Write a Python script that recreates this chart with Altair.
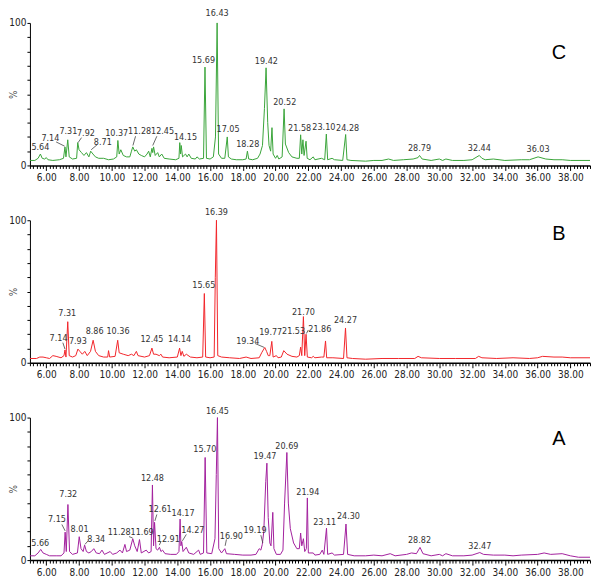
import altair as alt
import pandas as pd

FONT = "Liberation Sans Narrow, Arial Narrow, DejaVu Sans Condensed, Liberation Sans, sans-serif"
X_DOMAIN = [5.0, 39.2]

# ---------------- traces (retention time, relative abundance %) ----------------
c_trace = [(5.0,3.5),(5.3,3.5),(5.5,5),(5.64,8),(5.75,5),(5.9,4.5),(6.0,5.5),(6.1,4),(6.4,3.5),(6.8,4),
           (7.05,5),(7.14,13),(7.2,6),(7.31,18),(7.4,6),(7.6,4.5),(7.85,5),(7.92,16),(8.0,11),(8.15,9),
           (8.3,7),(8.45,9),(8.6,6),(8.71,10),(8.85,8),(9.0,6),(9.2,5),(9.5,5),(9.8,4),(10.1,4.5),
           (10.3,6),(10.37,17.5),(10.45,8),(10.55,11),(10.7,7),(10.9,6),(11.1,6),(11.2,10),(11.28,13),(11.4,10),
           (11.5,11),(11.65,8),(11.8,7),(12.0,6),(12.15,8),(12.25,10),(12.35,6),(12.45,12),(12.5,9),(12.55,13),
           (12.65,7),(12.8,9),(12.9,6),(13.05,8),(13.2,5),(13.5,4.5),(13.9,4),(14.1,5),(14.15,16),(14.2,8),
           (14.24,14),(14.32,6),(14.5,8),(14.6,6),(14.7,8),(14.85,5),(15.1,4.5),(15.2,6),(15.35,4.5),(15.6,5),
           (15.69,69),(15.78,5),(16.0,4.5),(16.2,6),(16.33,20),(16.43,100),(16.52,8),(16.7,5),(16.9,5),(17.05,20),
           (17.12,6),(17.3,4.5),(17.6,4),(18.0,4),(18.2,4.5),(18.28,10),(18.36,4.5),(18.6,4),(18.9,5),(19.05,8),
           (19.2,14),(19.32,40),(19.42,68.5),(19.52,30),(19.6,14),(19.7,10),(19.78,26.5),(19.85,8),(20.0,5),(20.1,7),
           (20.2,4.5),(20.4,6),(20.52,39.7),(20.6,15),(20.8,9),(21.0,6),(21.3,5),(21.45,5),(21.53,21.5),(21.6,8),
           (21.67,18),(21.74,7),(21.86,17),(21.93,5),(22.1,4),(22.3,6),(22.4,4),(22.8,5),(23.0,4),(23.1,22),
           (23.18,4),(23.45,5),(23.6,4),(24.1,3.5),(24.28,21.7),(24.36,4),(24.6,3.5),(25.5,3),(26.0,3.5),(26.5,3.5),
           (26.9,4.5),(27.2,3.5),(27.8,4),(28.4,4.5),(28.7,5.5),(28.79,7),(28.95,4.5),(29.5,3.5),(30.0,4.5),(30.2,3.5),
           (30.4,4.5),(30.8,3.5),(31.5,3.5),(32.0,4),(32.44,7),(32.6,5),(32.8,4),(33.3,4.5),(34.0,3.5),(35.0,4),
           (35.5,4),(36.03,6),(36.5,4.5),(37.0,4),(37.5,4),(38.0,3.5),(39.2,3.5)]

b_trace = [(5.0,3),(5.4,3),(5.6,4),(5.8,4),(6.0,3.5),(6.2,3),(6.4,5),(6.6,4.5),(6.9,3.5),(7.08,5),
           (7.14,9),(7.2,4),(7.31,28.8),(7.4,5),(7.6,4),(7.8,5),(7.93,9.6),(8.05,8),(8.2,6),(8.35,8),
           (8.5,5),(8.7,8),(8.86,15.8),(9.0,8),(9.2,5),(9.5,4),(9.75,4),(9.8,8.5),(9.87,4),(10.2,4.5),
           (10.36,15.8),(10.45,7),(10.7,6),(11.0,5),(11.2,6),(11.35,5),(11.5,8),(11.6,5),(12.0,4),(12.3,5),
           (12.45,10.3),(12.55,6),(12.7,6),(12.9,5),(13.0,6),(13.1,4),(13.5,3.5),(14.0,4),(14.14,10.3),(14.22,5),
           (14.3,8),(14.4,4.5),(14.55,6),(14.8,4),(15.2,3.5),(15.55,4),(15.65,48.6),(15.73,4),(16.0,3.5),(16.25,4),
           (16.32,60),(16.39,100),(16.47,5),(16.7,4),(17.2,3.5),(17.8,3),(18.2,4),(18.5,3),(19.0,3.5),(19.15,7),
           (19.25,9),(19.34,10.7),(19.45,8),(19.55,5),(19.65,5),(19.77,15),(19.85,4),(20.05,5),(20.15,3.5),(20.35,4),
           (20.5,8.5),(20.7,6),(21.0,4.5),(21.3,4),(21.45,5),(21.53,11),(21.6,5),(21.7,32.4),(21.78,5),(21.86,20),
           (21.94,4),(22.2,3.5),(22.3,4.5),(22.4,3.5),(22.8,4),(22.95,4),(23.05,15.3),(23.12,3.5),(23.5,3.5),(24.15,3),
           (24.27,24.4),(24.36,3.5),(24.7,3),(25.5,2.5),(26.5,3),(27.5,3),(28.5,3),(28.7,4.5),(28.9,3.5),(30.0,3),
           (31.0,3),(32.2,3),(32.4,4.5),(32.6,3.5),(33.5,3),(34.5,3.5),(35.5,3),(36.0,3.5),(36.3,4.5),(37.0,4),
           (37.5,4),(38.0,3.5),(39.2,3.5)]

a_trace = [(5.0,3),(5.3,3),(5.5,5),(5.66,7.5),(5.8,5),(6.0,4),(6.2,3),(6.6,3),(6.9,3),(7.08,5),
           (7.15,19.6),(7.22,6),(7.32,39),(7.42,6),(7.6,4),(7.9,5),(8.01,16.4),(8.12,8),(8.25,6),(8.34,10.5),
           (8.45,6),(8.6,5),(8.75,6),(8.9,8),(9.05,5),(9.25,4.5),(9.4,7),(9.55,4),(9.9,6),(10.05,4),
           (10.3,5),(10.5,7),(10.65,5),(10.8,11),(10.9,6),(11.1,7),(11.28,15),(11.4,10),(11.55,6),(11.69,14.4),
           (11.8,5),(12.1,7),(12.25,5),(12.4,6),(12.48,52.7),(12.55,10),(12.61,26.5),(12.7,8),(12.8,7),(12.91,9),
           (13.0,6),(13.1,7),(13.25,4.5),(13.6,4),(13.95,4),(14.1,6),(14.17,28.8),(14.22,10),(14.27,13),(14.35,6),
           (14.55,9),(14.7,5),(15.0,4),(15.3,7),(15.4,4),(15.6,5),(15.7,72),(15.8,5),(16.1,4.5),(16.3,15),
           (16.38,60),(16.45,100),(16.53,8),(16.7,5),(16.9,8),(17.0,4.5),(17.5,4),(18.0,3.5),(18.5,3.5),(18.8,4),
           (19.0,8),(19.1,7),(19.19,11),(19.28,20),(19.4,55),(19.47,68),(19.55,30),(19.65,12),(19.72,10),(19.83,33.5),
           (19.9,8),(20.05,4),(20.3,4),(20.45,7),(20.55,40),(20.69,75.5),(20.78,40),(20.9,22),(21.1,12),(21.3,8),
           (21.45,8),(21.53,19),(21.6,10),(21.7,15),(21.78,6),(21.88,8),(21.94,43.6),(22.0,5),(22.3,5),(22.4,3.5),
           (22.7,4),(22.85,7),(22.95,4),(23.11,22.4),(23.18,4),(23.45,5),(23.6,3.5),(24.15,4),(24.3,25.3),(24.4,4),
           (24.8,3),(25.5,3),(26.0,3.5),(26.5,3),(27.0,4.5),(27.3,3),(28.0,4),(28.3,5),(28.6,4.5),(28.82,8.9),
           (29.0,4.5),(29.5,3),(30.0,4),(30.2,3),(30.4,4.5),(30.8,3),(31.5,3),(32.0,3.5),(32.47,5.3),(32.7,4),
           (33.3,3.5),(34.0,3.5),(34.5,3),(35.0,3.5),(36.0,4),(36.4,5),(36.8,4),(37.5,4.5),(38.0,3),(38.5,2),
           (39.2,2)]

# ---------------- peak labels (text, time of label centre, height of label centre) ----------------
c_labels = [("5.64",5.64,13),("7.14",6.25,19),("7.31",7.35,24),("7.92",8.42,23),("8.71",9.45,16.5),
            ("10.37",10.3,22.6),("11.28",11.7,24),("12.45",13.1,24),("14.15",14.5,20),("15.69",15.6,74),
            ("16.43",16.43,106.8),("17.05",17.1,25.5),("18.28",18.3,15),("19.42",19.44,73.3),("20.52",20.56,44.3),
            ("21.58",21.47,26.5),("23.10",22.95,27),("24.28",24.4,26.5),("28.79",28.79,12.3),("32.44",32.44,12.1),
            ("36.03",36.03,11.2)]
b_labels = [("7.14",6.75,17.6),("7.31",7.28,34.7),("7.93",7.93,15.3),("8.86",8.95,22.5),("10.36",10.38,22.1),
            ("12.45",12.45,16.4),("14.14",14.14,16.4),("15.65",15.62,54.6),("16.39",16.39,105.7),("19.34",18.3,15),
            ("19.77",19.7,21.5),("21.53",21.1,22),("21.70",21.70,35.8),("21.86",22.7,24),("24.27",24.27,30.1)]
a_labels = [("5.66",5.63,12.1),("7.15",6.65,28.8),("7.32",7.34,46.6),("8.01",8.03,21.9),("8.34",9.05,15),
            ("11.28",10.45,19.6),("11.69",11.85,19.6),("12.48",12.48,57.3),("12.61",12.95,36),("12.91",13.45,14.5),
            ("14.17",14.35,33),("14.27",14.95,21),("15.70",15.68,77.9),("16.45",16.45,104.8),("16.90",17.3,17),
            ("19.19",18.75,21),("19.47",19.35,73),("20.69",20.69,80),("21.94",21.97,48),("23.11",23.0,26.5),
            ("24.30",24.45,31),("28.82",28.79,13.9),("32.47",32.47,10)]

# ---------------- leader lines (label end -> peak top) ----------------
c_leaders = [(6.6,16.5,7.12,13.5),(8.15,19.5,7.94,16),(9.1,14.5,8.74,11),
             (11.45,20.5,11.29,14),(12.75,20.5,12.5,14)]
b_leaders = [(7.01,14.1,7.14,9.6),(18.75,13.5,19.3,10.8),(22.0,23,21.88,20.5)]
a_leaders = [(6.95,25,7.15,20.5),(8.55,13.5,8.36,11),(11.05,16.5,11.27,15.5),(12.75,32,12.63,27.5),
             (13.0,13,12.9,10.5),(14.55,18,14.31,13.5),(17.0,14.5,16.92,10),(19.1,17.5,19.22,12)]

# ---------------- panel letters ----------------
c_letter = [("C", 37.3, 79)]
b_letter = [("B", 37.3, 90)]
a_letter = [("A", 37.3, 85)]

x_tick_values = [round(5.0 + 0.2 * i, 1) for i in range(172)]
y_tick_values = list(range(0, 101, 10))

PLOT_W, PLOT_H = 562, 143


def panel(trace, labels, leaders, letter, color):
    tdf = pd.DataFrame(trace, columns=["t", "v"])
    ldf = pd.DataFrame(labels, columns=["txt", "t", "v"])
    rdf = pd.DataFrame(leaders, columns=["t", "v", "t2", "v2"])
    gdf = pd.DataFrame(letter, columns=["txt", "t", "v"])

    x = alt.X("t:Q", title=None,
              scale=alt.Scale(domain=X_DOMAIN, nice=False, zero=False),
              axis=alt.Axis(values=x_tick_values,
                            labelExpr="datum.value % 2 == 0 ? format(datum.value, '.2f') : ''",
                            tickSize={"condition": {"test": "datum.value % 2 == 0", "value": 5}, "value": 3},
                            labelOverlap=False, labelFlush=False, labelPadding=2,
                            domainWidth=1.5, grid=False))
    y = alt.Y("v:Q", title="%",
              scale=alt.Scale(domain=[0, 100], nice=False),
              axis=alt.Axis(values=y_tick_values,
                            labelExpr="datum.value == 0 || datum.value == 100 ? datum.label : ''",
                            tickSize=3, labelPadding=1, grid=False,
                            titleX=-11, titleY=PLOT_H / 2, titleFontSize=10,
                            titleFontWeight="normal", titleColor="#555", titleFont=FONT))

    line = alt.Chart(tdf).mark_line(color=color, strokeWidth=1, clip=False).encode(x=x, y=y)
    text = alt.Chart(ldf).mark_text(font=FONT, fontSize=9, color="#333",
                                    align="center", baseline="middle").encode(x=x, y=y, text="txt:N")
    rules = alt.Chart(rdf).mark_rule(color="#444", strokeWidth=0.8).encode(
        x=x, y=y, x2="t2:Q", y2="v2:Q")
    lett = alt.Chart(gdf).mark_text(font="Liberation Sans, Arial, sans-serif", fontSize=20,
                                    color="#000", align="center", baseline="middle").encode(
        x=x, y=y, text="txt:N")
    return alt.layer(line, rules, text, lett).properties(width=PLOT_W, height=PLOT_H)


pc = panel(c_trace, c_labels, c_leaders, c_letter, "#3aa53a")
pb = panel(b_trace, b_labels, b_leaders, b_letter, "#f2262b")
pa = panel(a_trace, a_labels, a_leaders, a_letter, "#a3219e")

chart = alt.vconcat(pc, pb, pa, spacing=55, bounds="flush").properties(
    padding={"left": 0, "top": 0, "right": 0, "bottom": 0}
).configure_view(stroke=None).configure_axis(
    domainColor="#000", tickColor="#000", labelFont=FONT, labelFontSize=10,
    labelColor="#222", grid=False
)

chart.save("out.html", embed_options={"renderer": "svg", "actions": False})
